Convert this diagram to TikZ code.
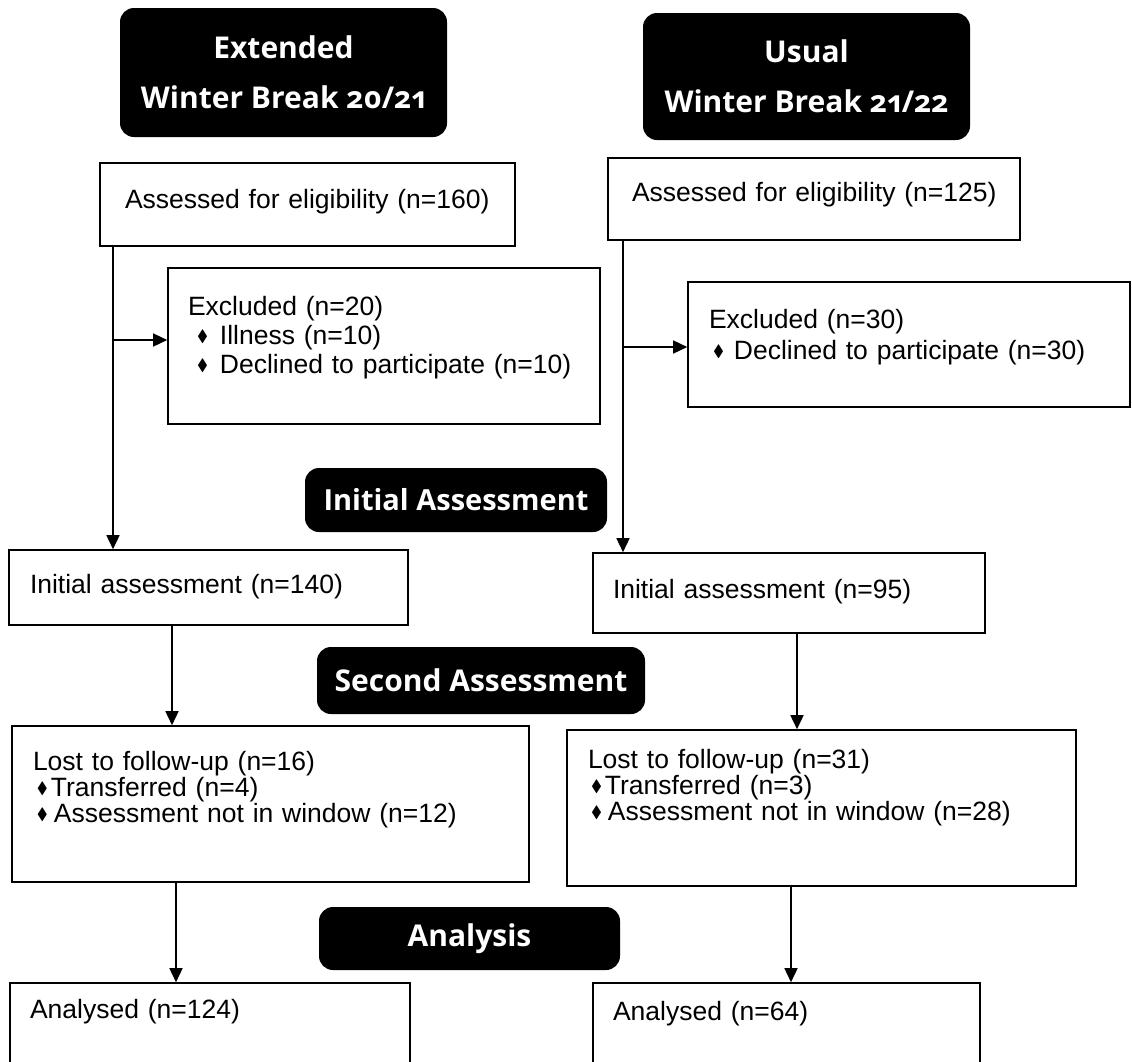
\documentclass[tikz,border=0pt]{standalone}
\usepackage{amssymb}
\usepackage{fontspec}
\setmainfont{Liberation Sans}
\newfontfamily\headfont{Open Sans}[Numbers=OldStyle]
\usetikzlibrary{arrows.meta}
\pgfdeclarelayer{edgelayer}
\pgfdeclarelayer{nodelayer}
\pgfsetlayers{edgelayer,nodelayer,main}
\tikzstyle{edge}=[draw=black, line width=1.5pt, -{Triangle[width=13pt,length=14pt]}]
\tikzstyle{box}=[rectangle, draw=black, fill=white, line width=1.6pt, align=left, inner ysep=0pt, font=\fontsize{26.5}{29}\selectfont]
\tikzstyle{header}=[rectangle, rounded corners=14pt, fill=black, text=white, align=center, inner sep=0pt, font=\headfont\bfseries\fontsize{30}{50}\selectfont]
\newcommand{\bul}{\raisebox{0.15ex}{\scalebox{0.62}{$\blacklozenge$}}}

\begin{document}
\begin{tikzpicture}[x=1pt,y=-1pt]
				\useasboundingbox (0,0) rectangle (1132,1061);
				\begin{pgfonlayer}{nodelayer}
					\node [style=header, minimum width=327pt, minimum height=129pt] (11) at (283.5, 72.5) {Extended\\Winter Break 20/21};
					\node [style=header, minimum width=327pt, minimum height=127pt] (12) at (806.5, 76.5) {Usual\\Winter Break 21/22};
					\node [style=header, minimum width=302pt, minimum height=64pt, font=\headfont\bfseries\fontsize{29}{50}\selectfont] (13) at (456, 500) {Initial Assessment};
					\node [style=header, minimum width=328pt, minimum height=67pt] (14) at (481, 680.5) {Second Assessment};
					\node [style=header, minimum width=301pt, minimum height=63pt] (15) at (469.5, 938.5) {Analysis};
					\node [style=box, inner xsep=25pt, text width=365pt, text height=45pt, text depth=38pt] (1) at (307.5, 204.5) {\mbox{Assessed for eligibility (n=160)}};
					\node [style=box, inner xsep=24pt, text width=364pt, text height=43pt, text depth=39pt] (2) at (814, 199) {\mbox{Assessed for eligibility (n=125)}};
					\node [style=box, inner xsep=20pt, text width=392pt, text height=47pt, text depth=109pt] (3) at (384, 346) {Excluded (n=20)\\\hspace*{9pt}\bul\hspace{12pt}Illness (n=10)\\\hspace*{9pt}\bul\hspace{12pt}Declined to participate (n=10)};
					\node [style=box, inner xsep=21pt, text width=400pt, text height=46pt, text depth=79pt, font=\fontsize{26.5}{31}\selectfont] (4) at (909, 344.5) {Excluded (n=30)\\\hspace*{4pt}\bul\hspace{10pt}Declined to participate (n=30)};
					\node [style=box, inner xsep=21pt, text width=357pt, text height=43pt, text depth=32pt] (5) at (208.5, 587.5) {Initial assessment (n=140)};
					\node [style=box, inner xsep=20pt, text width=352pt, text height=45pt, text depth=35pt] (6) at (789, 593) {Initial assessment (n=95)};
					\node [style=box, inner xsep=21pt, text width=475pt, text height=44pt, text depth=112pt, font=\fontsize{26.5}{26}\selectfont] (7) at (270.5, 804) {Lost to follow-up (n=16)\\\hspace*{4pt}\bul\hspace{3pt}Transferred (n=4)\\\hspace*{4pt}\bul\hspace{6pt}Assessment not in window (n=12)};
					\node [style=box, inner xsep=21pt, text width=467pt, text height=38pt, text depth=118pt, font=\fontsize{26.5}{26}\selectfont] (8) at (821.5, 808) {Lost to follow-up (n=31)\\\hspace*{3pt}\bul\hspace{3pt}Transferred (n=3)\\\hspace*{3pt}\bul\hspace{6pt}Assessment not in window (n=28)};
					\node [style=box, inner xsep=20pt, text width=360pt, text height=35pt, text depth=82pt] (9) at (210, 1041.5) {Analysed (n=124)};
					\node [style=box, inner xsep=20pt, text width=347pt, text height=37pt, text depth=80pt] (10) at (786.5, 1041.5) {Analysed (n=64)};
					\coordinate (a) at (113, 340);
					\coordinate (b) at (623, 347);
					\coordinate (c) at (172, 0);
					\coordinate (d) at (176, 0);
					\coordinate (e) at (797, 0);
					\coordinate (f) at (791, 0);
				\end{pgfonlayer}
				\begin{pgfonlayer}{edgelayer}
					\draw [style=edge] (1.south -| a) to (5.north -| a);
					\draw [style=edge] (a) to (3.west |- a);
					\draw [style=edge] (2.south -| b) to (6.north -| b);
					\draw [style=edge] (b) to (4.west |- b);
					\draw [style=edge] (5.south -| c) to (7.north -| c);
					\draw [style=edge] (6.south -| e) to (8.north -| e);
					\draw [style=edge] (7.south -| d) to (9.north -| d);
					\draw [style=edge] (8.south -| f) to (10.north -| f);
				\end{pgfonlayer}
			\end{tikzpicture}
\end{document}
